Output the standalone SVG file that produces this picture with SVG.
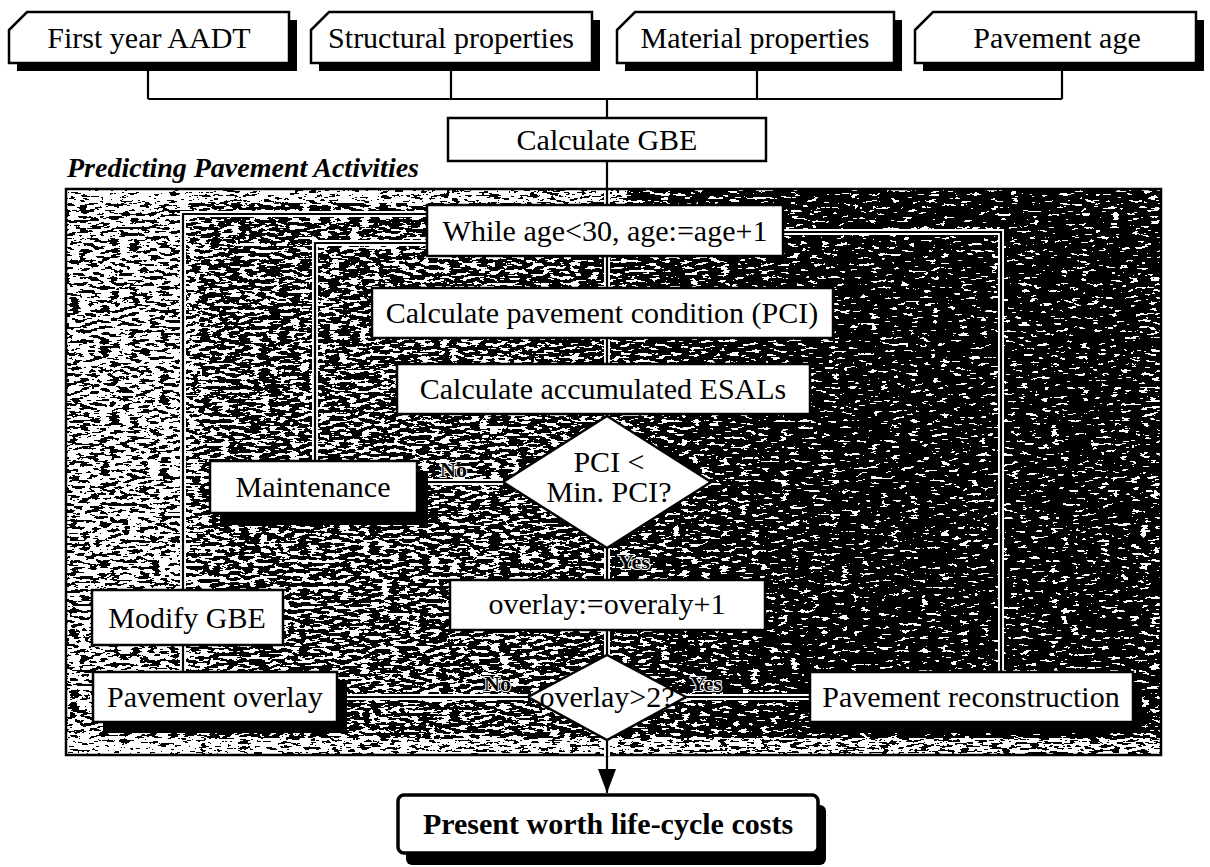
<svg xmlns="http://www.w3.org/2000/svg" width="1210" height="867" viewBox="0 0 1210 867">
<defs>
<style>
.box{fill:#fff;stroke:#000;stroke-width:2.5}
.sh{fill:#000}
.t{font-family:"Liberation Serif","Times New Roman",serif;font-size:30px;fill:#000;text-anchor:middle}
.lbl{font-family:"Liberation Serif","Times New Roman",serif;font-size:22px;font-weight:bold;fill:#000;stroke:#fff;stroke-width:2;paint-order:stroke}
.halo{fill:none;stroke:#fff;stroke-width:6}
.ln{fill:none;stroke:#000;stroke-width:2.2}
</style>
<linearGradient id="dens" x1="0" x2="1" y1="0" y2="0">
<stop offset="0" stop-color="#8c8c8c"/>
<stop offset="0.1" stop-color="#8c8c8c"/>
<stop offset="0.14" stop-color="#5a5a5a"/>
<stop offset="0.4" stop-color="#5a5a5a"/>
<stop offset="0.55" stop-color="#333333"/>
<stop offset="0.72" stop-color="#0d0d0d"/>
<stop offset="0.97" stop-color="#0d0d0d"/>
<stop offset="1" stop-color="#333333"/>
</linearGradient>
<filter id="grain" x="0" y="0" width="1" height="1" color-interpolation-filters="sRGB">
<feTurbulence type="fractalNoise" baseFrequency="0.1 0.3" numOctaves="3" seed="11" result="n"/>
<feColorMatrix in="n" type="matrix" values="1 0 0 0 0 1 0 0 0 0 1 0 0 0 0 0 0 0 0 1" result="n2"/>
<feComposite in="n2" in2="SourceGraphic" operator="arithmetic" k1="0" k2="1" k3="0.4" k4="0" result="sum"/>
<feColorMatrix in="sum" type="matrix" values="0 0 0 0 1 0 0 0 0 1 0 0 0 0 1 6 0 0 0 -3.58" result="a"/>
<feComponentTransfer in="a" result="b"><feFuncA type="discrete" tableValues="0 1"/></feComponentTransfer>
<feComposite in="b" in2="SourceAlpha" operator="in"/>
</filter>
<filter id="grain3" x="0" y="0" width="1" height="1" color-interpolation-filters="sRGB">
<feTurbulence type="fractalNoise" baseFrequency="0.1 0.4" numOctaves="3" seed="2" result="n"/>
<feColorMatrix in="n" type="matrix" values="0 0 0 0 1 0 0 0 0 1 0 0 0 0 1 6 0 0 0 -2.3" result="a"/>
<feComponentTransfer in="a" result="b"><feFuncA type="discrete" tableValues="0 1"/></feComponentTransfer>
<feComposite in="b" in2="SourceAlpha" operator="in"/>
</filter>
<marker id="arr" markerUnits="userSpaceOnUse" viewBox="0 0 24 18" markerWidth="24" markerHeight="18" refX="24" refY="9" orient="auto">
<path d="M0,0 L24,9 L0,18 z" fill="#000"/>
</marker>
</defs>

<g id="top-connectors">
<path class="ln" d="M148,71 V99 M451,71 V99 M757,71 V99 M1062,71 V99 M148,99 H1062 M607,99 V118"/>
</g>

<g id="in-aadt">
<path class="sh" d="M17,38 L35,20 H297 V71 H17 Z"/>
<path class="box" d="M9,30 L27,12 H289 V63 H9 Z"/>
<text class="t" x="149" y="48">First year AADT</text>
</g>
<g id="in-structural">
<path class="sh" d="M319,38 L337,20 H600 V71 H319 Z"/>
<path class="box" d="M311,30 L329,12 H592 V63 H311 Z"/>
<text class="t" x="451" y="48">Structural properties</text>
</g>
<g id="in-material">
<path class="sh" d="M625,38 L643,20 H902 V71 H625 Z"/>
<path class="box" d="M617,30 L635,12 H894 V63 H617 Z"/>
<text class="t" x="755" y="48">Material properties</text>
</g>
<g id="in-age">
<path class="sh" d="M923,38 L941,20 H1204 V71 H923 Z"/>
<path class="box" d="M915,30 L933,12 H1196 V63 H915 Z"/>
<text class="t" x="1057" y="48">Pavement age</text>
</g>

<g id="calc-gbe">
<rect class="box" x="448" y="118" width="318" height="43"/>
<text class="t" x="607" y="150">Calculate GBE</text>
</g>

<text x="67" y="177" font-family="Liberation Serif, Times New Roman, serif" font-size="28" font-weight="bold" font-style="italic">Predicting Pavement Activities</text>

<g id="activities-frame">
<rect x="66" y="189" width="1095" height="566" fill="#000"/>
<rect x="67" y="190" width="1093" height="564" fill="url(#dens)" filter="url(#grain)"/>
<rect x="67" y="190" width="560" height="13" fill="#fff" filter="url(#grain3)"/>
<rect x="67" y="738" width="1093" height="16" fill="#fff" filter="url(#grain3)"/>
<rect x="66" y="189" width="1095" height="566" fill="none" stroke="#000" stroke-width="2.5"/>
</g>

<g id="connectors">
<path class="halo" d="M607,191 V205 M607,256 V288 M607,338 V364 M607,414 V416 M607,548 V580 M607,630 V655 M607,740 V756 M427,214 H183 V590 M183,645 V672 M427,243 H315 V461 M783,232 H1001 V672 M503,482 H428 M528,697 H347 M686,697 H810"/>
<path class="ln" d="M607,161 V205 M607,256 V288 M607,338 V364 M607,414 V416 M607,548 V580 M607,630 V655 M427,214 H183 V590 M183,645 V672 M427,243 H315 V461 M783,232 H1001 V672 M503,482 H428 M528,697 H347 M686,697 H810"/>
<path class="ln" d="M607,740 V793" marker-end="url(#arr)"/>
<text class="lbl" x="440" y="477">No</text>
<text class="lbl" x="618" y="569">Yes</text>
<text class="lbl" x="484" y="691">No</text>
<text class="lbl" x="690" y="691">Yes</text>
</g>

<g id="while">
<rect class="box" x="427" y="205" width="356" height="51"/>
<text class="t" x="605" y="241">While age&lt;30, age:=age+1</text>
</g>
<g id="calc-pci">
<rect class="box" x="372" y="288" width="461" height="50"/>
<text class="t" x="602" y="323">Calculate pavement condition (PCI)</text>
</g>
<g id="calc-esal">
<rect class="box" x="397" y="364" width="413" height="50"/>
<text class="t" x="603" y="399">Calculate accumulated ESALs</text>
</g>
<g id="pci-check">
<path class="box" d="M607,416 L711,482 L607,548 L503,482 Z"/>
<text class="t" x="609" y="472">PCI &lt;</text>
<text class="t" x="609" y="502">Min. PCI?</text>
</g>
<g id="maintenance">
<rect class="sh" x="220" y="471" width="208" height="54"/>
<rect class="box" x="210" y="461" width="207" height="52"/>
<text class="t" x="313" y="497">Maintenance</text>
</g>
<g id="modify-gbe">
<rect class="box" x="92" y="590" width="191" height="55"/>
<text class="t" x="187" y="628">Modify GBE</text>
</g>
<g id="overlay-inc">
<rect class="box" x="450" y="580" width="315" height="50"/>
<text class="t" x="607" y="614">overlay:=overaly+1</text>
</g>
<g id="overlay-check">
<path class="box" d="M607,655 L686,697 L607,740 L528,697 Z"/>
<text class="t" x="607" y="707">overlay&gt;2?</text>
</g>
<g id="pavement-overlay">
<rect class="sh" x="103" y="682" width="244" height="51"/>
<rect class="box" x="93" y="672" width="244" height="50"/>
<text class="t" x="215" y="707">Pavement overlay</text>
</g>
<g id="reconstruction">
<rect class="sh" x="820" y="682" width="322" height="51"/>
<rect class="box" x="810" y="672" width="323" height="50"/>
<text class="t" x="971" y="707">Pavement reconstruction</text>
</g>
<g id="present-worth">
<rect class="sh" x="406" y="805" width="420" height="60" rx="6"/>
<rect x="398" y="795" width="420" height="58" rx="6" fill="#fff" stroke="#000" stroke-width="3.5"/>
<text x="608" y="834" font-family="Liberation Serif, Times New Roman, serif" font-size="30" font-weight="bold" text-anchor="middle">Present worth life-cycle costs</text>
</g>
</svg>
